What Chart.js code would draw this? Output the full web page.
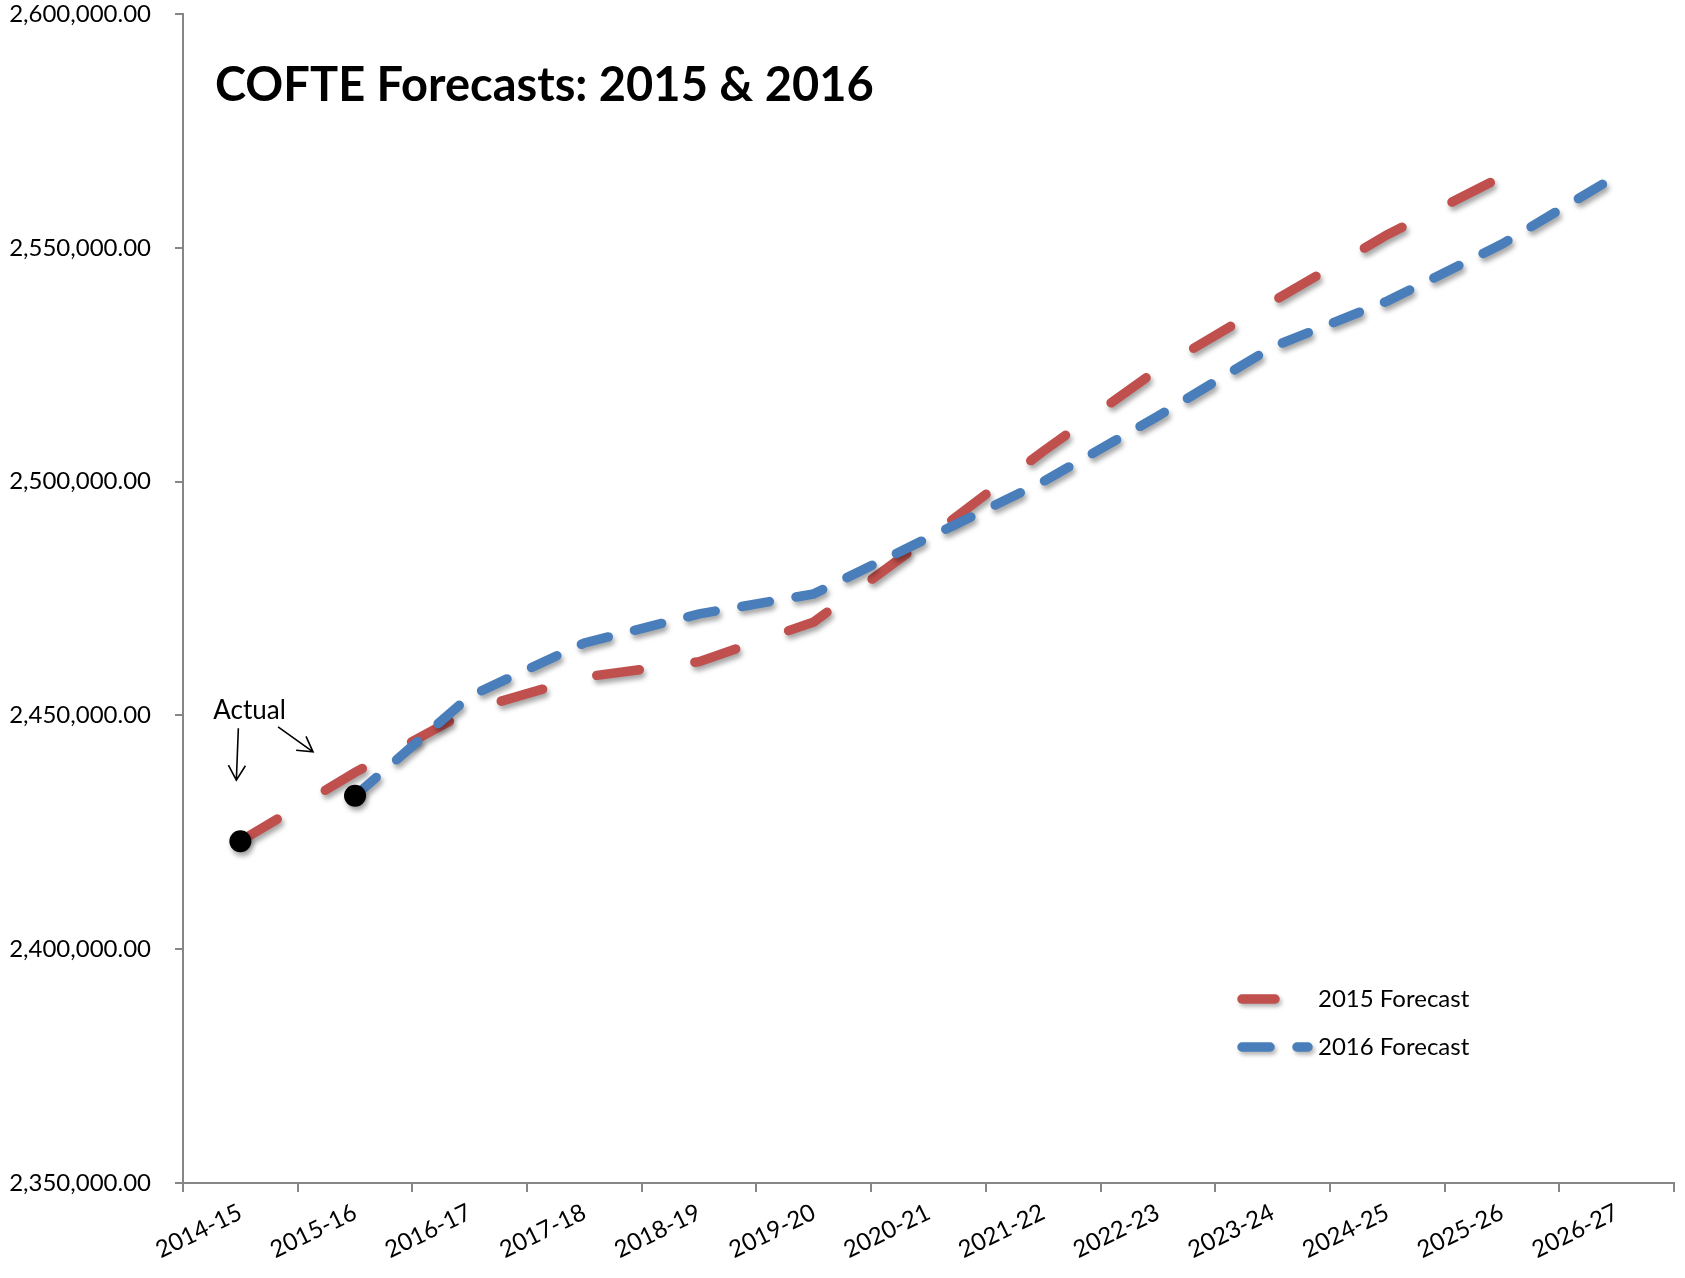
<!DOCTYPE html>
<html>
<head>
<meta charset="utf-8">
<script src="https://cdn.jsdelivr.net/npm/chart.js@4/dist/chart.umd.min.js"></script>
<style>
  html, body { margin: 0; padding: 0; background: #ffffff; }
  #wrap { width: 1685px; height: 1278px; position: relative; }
</style>
</head>
<body>
<div id="wrap"><canvas id="c" width="1685" height="1278"></canvas></div>
<script>
// ---- data ----
const chartTitle = 'COFTE Forecasts: 2015 & 2016';
const annotationText = 'Actual';
const categories = ['2014-15','2015-16','2016-17','2017-18','2018-19','2019-20','2020-21','2021-22','2022-23','2023-24','2024-25','2025-26','2026-27'];
const forecast2015 = [2423100, 2437800, 2451100, 2458200, 2461500, 2470000, 2488000, 2506500, 2524000, 2538500, 2552800, 2565200, null];
const forecast2016 = [null, 2432800, 2454100, 2465500, 2471700, 2476000, 2488000, 2500000, 2514000, 2528800, 2538600, 2550800, 2565400];
const actualValues = [2423100, 2432800, null, null, null, null, null, null, null, null, null, null, null];
const yMin = 2350000, yMax = 2600000, yStep = 50000;
const seriesLabels = ['2015 Forecast', '2016 Forecast'];

const FONT = 'Lato, "Open Sans", sans-serif';
const AXIS_COLOR = '#868686';

const shadowPlugin = {
  id: 'shadow',
  beforeDatasetDraw(chart) {
    const ctx = chart.ctx;
    ctx.save();
    ctx.shadowColor = 'rgba(0,0,0,0.35)';
    ctx.shadowBlur = 5;
    ctx.shadowOffsetX = 2;
    ctx.shadowOffsetY = 4;
  },
  afterDatasetDraw(chart) {
    chart.ctx.restore();
  }
};

function arrow(ctx, x1, y1, x2, y2) {
  ctx.beginPath();
  ctx.moveTo(x1, y1);
  ctx.lineTo(x2, y2);
  const a = Math.atan2(y2 - y1, x2 - x1);
  const L = 17, spread = Math.PI / 6;
  ctx.moveTo(x2 - L * Math.cos(a - spread), y2 - L * Math.sin(a - spread));
  ctx.lineTo(x2, y2);
  ctx.lineTo(x2 - L * Math.cos(a + spread), y2 - L * Math.sin(a + spread));
  ctx.stroke();
}

const decorPlugin = {
  id: 'decor',
  afterDraw(chart) {
    const ctx = chart.ctx;
    const area = chart.chartArea;
    const xs = chart.scales.x, ys = chart.scales.y;
    ctx.save();
    // title
    ctx.fillStyle = '#000';
    ctx.font = 'bold 47px ' + FONT;
    ctx.textAlign = 'left';
    ctx.textBaseline = 'alphabetic';
    ctx.fillText(chartTitle, area.left + 32, area.top + 87);

    // "Actual" annotation with arrows
    const p0x = xs.getPixelForValue(0), p0y = ys.getPixelForValue(actualValues[0]);
    const p1x = xs.getPixelForValue(1), p1y = ys.getPixelForValue(actualValues[1]);
    ctx.font = '26px ' + FONT;
    ctx.fillText(annotationText, p0x - 27, p0y - 122);
    ctx.strokeStyle = '#000';
    ctx.lineWidth = 1.6;
    arrow(ctx, p0x - 2, p0y - 113, p0x - 4, p0y - 61);
    arrow(ctx, p1x - 77, p1y - 69, p1x - 42, p1y - 44);

    // legend
    const ds = chart.data.datasets.filter(d => d.inLegend);
    const lx = area.right - 432;
    const tx = area.right - 356;
    const ly0 = area.top + 985;
    const gap = 48;
    ds.forEach((d, i) => {
      const y = ly0 + i * gap;
      ctx.save();
      ctx.strokeStyle = d.borderColor;
      ctx.lineWidth = d.borderWidth;
      ctx.lineCap = 'round';
      ctx.setLineDash(d.borderDash);
      ctx.shadowColor = 'rgba(0,0,0,0.3)';
      ctx.shadowBlur = 4;
      ctx.shadowOffsetX = 2;
      ctx.shadowOffsetY = 3;
      ctx.beginPath();
      ctx.moveTo(lx, y);
      ctx.lineTo(lx + (i === 0 ? 33 : 66), y);
      ctx.stroke();
      ctx.restore();
      ctx.fillStyle = '#000';
      ctx.font = '24px ' + FONT;
      ctx.textBaseline = 'middle';
      ctx.fillText(d.label, tx, y);
    });
    ctx.restore();
  }
};

const fmt = new Intl.NumberFormat('en-US', { minimumFractionDigits: 2, maximumFractionDigits: 2 });

new Chart(document.getElementById('c'), {
  type: 'line',
  data: {
    labels: categories,
    datasets: [
      {
        label: seriesLabels[0],
        data: forecast2015,
        inLegend: true,
        borderColor: '#C0504D',
        borderWidth: 9.5,
        borderDash: [43, 56],
        borderCapStyle: 'round',
        pointRadius: 0,
        tension: 0,
        fill: false,
        order: 2
      },
      {
        label: seriesLabels[1],
        data: forecast2016,
        inLegend: true,
        borderColor: '#4A7EBB',
        borderWidth: 9.5,
        borderDash: [28, 27],
        borderCapStyle: 'round',
        pointRadius: 0,
        tension: 0,
        fill: false,
        order: 1
      },
      {
        label: annotationText,
        data: actualValues,
        showLine: false,
        pointRadius: 11,
        pointBackgroundColor: '#000',
        pointBorderWidth: 0,
        borderColor: '#000',
        order: 0
      }
    ]
  },
  options: {
    responsive: false,
    animation: false,
    layout: { padding: { top: 14, right: 11, left: 0, bottom: 0 } },
    plugins: {
      legend: { display: false },
      title: { display: false },
      tooltip: { enabled: false }
    },
    scales: {
      x: {
        offset: true,
        grid: { offset: true, drawOnChartArea: false, tickLength: 9, color: AXIS_COLOR, lineWidth: 2 },
        border: { color: AXIS_COLOR, width: 2 },
        ticks: { maxRotation: 26, minRotation: 26, color: '#000', font: { family: FONT, size: 24 }, padding: 6 },
        afterFit(s) { s.height = 95; s.paddingLeft = 0; s.paddingRight = 0; }
      },
      y: {
        min: yMin,
        max: yMax,
        grid: { drawOnChartArea: false, tickLength: 8, color: AXIS_COLOR, lineWidth: 2 },
        border: { color: AXIS_COLOR, width: 2 },
        ticks: {
          stepSize: yStep,
          color: '#000',
          font: { family: FONT, size: 24 },
          padding: 24,
          callback: v => fmt.format(v)
        },
        afterFit(s) { s.width = 183; s.paddingTop = 12; s.paddingBottom = 12; }
      }
    }
  },
  plugins: [shadowPlugin, decorPlugin]
});
</script>
</body>
</html>
